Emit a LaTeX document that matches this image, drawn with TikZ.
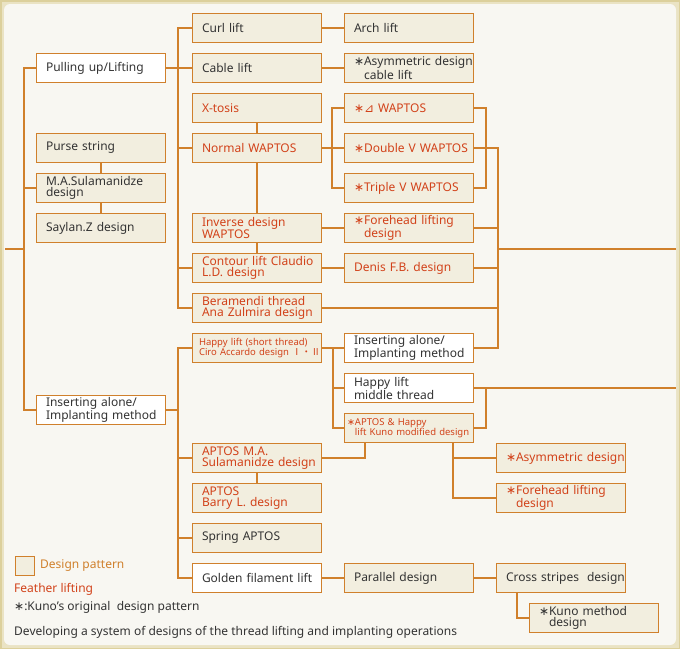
\documentclass[tikz,border=0pt]{standalone}
\usepackage{fontspec}
\setmainfont{Noto Sans}
\newfontfamily\symf{DejaVu Sans}
\newfontfamily\cjkf{Noto Sans CJK JP}
\definecolor{linec}{HTML}{D0802C}
\definecolor{fillc}{HTML}{F2EEDF}
\definecolor{bgc}{HTML}{F8F7F2}
\definecolor{framec}{HTML}{DCD09C}
\definecolor{redt}{HTML}{D2421A}
\definecolor{darkt}{HTML}{333333}
\newcommand{\kast}{{\symf\char"2217}}
\begin{document}
\begin{tikzpicture}[x=1pt,y=-1pt,
  box/.style={draw=linec,line width=1pt,fill=fillc,minimum width=129pt,minimum height=29pt,
    inner xsep=0pt,inner ysep=0pt,text width=129pt,align=left,
    font=\fontsize{12}{11}\selectfont,text=darkt,
    execute at begin node={\leftskip=10pt\hyphenpenalty=10000}},
  wbox/.style={box,fill=white},
  red/.style={text=redt},
  small/.style={font=\fontsize{9.5}{10}\selectfont,execute at begin node={\leftskip=7pt\hyphenpenalty=10000}},
  conn/.style={draw=linec,line width=2pt},
  legt/.style={anchor=west,inner sep=0pt,font=\fontsize{12}{11}\selectfont}]
\fill[framec!60!white] (0,0) rectangle (680,649);
\draw[framec,line width=1.5pt] (0.75,0.75) rectangle (679.25,648.25);
\fill[bgc,rounded corners=6pt] (4,4) rectangle (676,645);
\useasboundingbox (0,0) rectangle (680,649);
% column 1
\node[wbox] (pull) at (100.5,68) {Pulling up/Lifting};
\node[box] (purse) at (100.5,148) {Purse string};
\node[box] (masul) at (100.5,188) {M.A.Sulamanidze\\design};
\node[box] (saylan) at (100.5,228) {Saylan.Z design};
\node[wbox] (insA) at (100.5,410) {Inserting alone/\\Implanting method};
% column 2
\node[box] (curl) at (256.5,28) {Curl lift};
\node[box] (cable) at (256.5,68) {Cable lift};
\node[box,red] (xtosis) at (256.5,108) {X-tosis};
\node[box,red] (normal) at (256.5,148) {Normal WAPTOS};
\node[box,red] (inverse) at (256.5,228) {Inverse design\\WAPTOS};
\node[box,red] (contour) at (256.5,268) {Contour lift Claudio\\L.D. design};
\node[box,red] (beram) at (256.5,308) {Beramendi thread\\Ana Zulmira design};
\node[box,red,small] (happy) at (256.5,348) {Happy lift (short thread)\\Ciro Accardo design {\cjkf Ⅰ・Ⅱ}};
\node[box,red] (aptosma) at (256.5,458) {APTOS M.A.\\Sulamanidze design};
\node[box,red] (barry) at (256.5,498) {APTOS\\Barry L. design};
\node[box] (spring) at (256.5,538) {Spring APTOS};
\node[wbox] (golden) at (256.5,578) {Golden filament lift};
% column 3
\node[box] (arch) at (408.5,28) {Arch lift};
\node[box] (asym) at (408.5,68) {\kast Asymmetric design\\\hphantom{\kast}cable lift};
\node[box,red] (tri) at (408.5,108) {\kast{\symf ⊿} WAPTOS};
\node[box,red] (dbl) at (408.5,148) {\kast Double V WAPTOS};
\node[box,red] (trip) at (408.5,188) {\kast Triple V WAPTOS};
\node[box,red] (fore) at (408.5,228) {\kast Forehead lifting\\\hphantom{\kast}design};
\node[box,red] (denis) at (408.5,268) {Denis F.B. design};
\node[wbox] (insB) at (408.5,348) {Inserting alone/\\Implanting method};
\node[wbox] (middle) at (408.5,388) {Happy lift\\middle thread};
\node[box,red,small,execute at begin node={\leftskip=3pt\hyphenpenalty=10000}] (kmod) at (408.5,428) {\kast APTOS \& Happy\\\hphantom{\kast}lift Kuno modified design};
\node[box] (parallel) at (408.5,578) {Parallel design};
% column 4
\node[box,red] (asym2) at (560.5,458) {\kast Asymmetric design};
\node[box,red] (fore2) at (560.5,498) {\kast Forehead lifting\\\hphantom{\kast}design};
\node[box] (cross) at (560.5,578) {Cross stripes\ \ design};
\node[box] (kuno) at (593.5,618) {\kast Kuno method\\\hphantom{\kast}design};
% legend
\node[draw=linec,line width=1pt,fill=fillc,minimum width=19pt,minimum height=19pt,inner sep=0pt] (leg) at (24.5,565.5) {};
\node[legt,text=linec] (legA) at (40,566) {Design pattern};
\node[legt,text=redt] (legB) at (14,589) {Feather lifting};
\node[legt,text=darkt] (legC) at (14,607) {\kast:Kuno's original\ \ design pattern};
\node[legt,text=darkt] (legD) at (14,632) {Developing a system of designs of the thread lifting and implanting operations};
% connectors
\coordinate (lstub) at (5,249);
\coordinate (rend1) at (676,249);
\coordinate (rend2) at (676,388);
\draw[conn] (pull.west) -- ++(-12,0) coordinate (tr) |- (insA.west);
\draw[conn] (masul.west) -- (masul.west -| tr);
\draw[conn] (lstub) -- (lstub -| tr);
\draw[conn] (purse.south) -- (masul.north);
\draw[conn] (masul.south) -- (saylan.north);
% bus x=178 top
\draw[conn] (curl.west) -- ++(-14,0) coordinate (b2) |- (beram.west);
\draw[conn] (pull.east) -- (pull.east -| b2);
\draw[conn] (cable.west) -- (cable.west -| b2);
\draw[conn] (normal.west) -- (normal.west -| b2);
\draw[conn] (contour.west) -- (contour.west -| b2);
\draw[conn] (xtosis.south) -- (normal.north);
\draw[conn] (normal.south) -- (inverse.north);
\draw[conn] (inverse.south) -- (contour.north);
\draw[conn] (curl.east) -- (arch.west);
\draw[conn] (cable.east) -- (asym.west);
\draw[conn] (normal.east) -- (dbl.west);
\draw[conn] (inverse.east) -- (fore.west);
\draw[conn] (contour.east) -- (denis.west);
\draw[conn] (tri.west) -- ++(-12,0) |- (trip.west);
\draw[conn] (tri.east) -- ++(12,0) |- (trip.east);
\draw[conn] (dbl.east) -- ++(24,0) coordinate (b3) |- (insB.east);
\draw[conn] (fore.east) -- (fore.east -| b3);
\draw[conn] (denis.east) -- (denis.east -| b3);
\draw[conn] (beram.east) -- (beram.east -| b3);
\draw[conn] (rend1) -- (rend1 -| b3);
% bus x=178 bottom
\draw[conn] (happy.west) -- ++(-14,0) coordinate (b4) |- (golden.west);
\draw[conn] (insA.east) -- (insA.east -| b4);
\draw[conn] (aptosma.west) -- (aptosma.west -| b4);
\draw[conn] (spring.west) -- (spring.west -| b4);
\draw[conn] (aptosma.south) -- (barry.north);
\draw[conn] (happy.east) -- (insB.west);
\draw[conn] (insB.west) ++(-11,0) coordinate (b5) |- (kmod.west);
\draw[conn] (middle.west) -- (middle.west -| b5);
\draw[conn] (middle.east) -- (rend2);
\draw[conn] (middle.east) ++(12,0) |- (kmod.east);
\draw[conn] (aptosma.east) -| ([xshift=21pt]kmod.south west);
\draw[conn] ([xshift=109pt]kmod.south west) coordinate (b6) |- (fore2.west);
\draw[conn] (asym2.west) -- (asym2.west -| b6);
\draw[conn] (golden.east) -- (parallel.west);
\draw[conn] (parallel.east) -- (cross.west);
\draw[conn] ([xshift=21pt]cross.south west) |- (kuno.west);
\end{tikzpicture}
\end{document}
